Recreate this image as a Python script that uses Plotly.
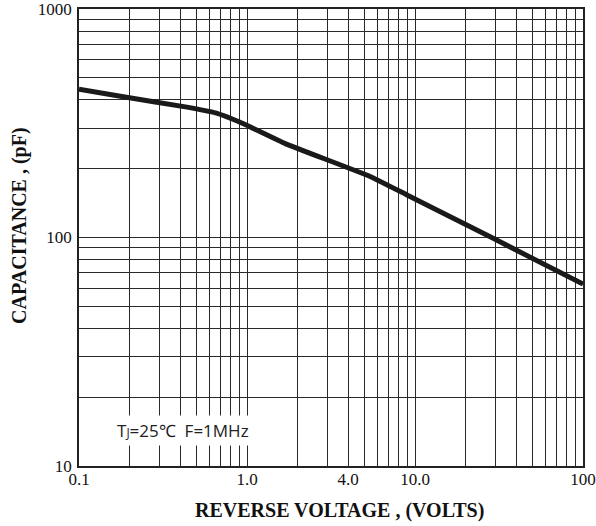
import plotly.graph_objects as go

# Data
voltage = [0.1, 0.18, 0.43, 0.65, 0.81, 0.96, 1.7, 5.4, 8.9, 29, 100]
capacitance = [446, 414, 373, 351, 331, 314, 257, 185, 154, 99.4, 62.5]

x_grid = [m * d for d in (0.1, 1, 10) for m in range(1, 10)] + [100]
x_labels = {0.1: "0.1", 1: "1.0", 4: "4.0", 10: "10.0", 100: "100"}
y_grid = [m * d for d in (10, 100) for m in range(1, 10)] + [1000]
y_labels = {10: "10", 100: "100", 1000: "1000"}

x_text = [x_labels.get(round(v, 6), "") for v in x_grid]
y_text = [y_labels.get(round(v, 6), "") for v in y_grid]

fig = go.Figure()
fig.add_trace(go.Scatter(
    x=voltage, y=capacitance, mode="lines",
    line=dict(color="#1a1a1a", width=5, shape="spline", smoothing=0.3),
    showlegend=False, hoverinfo="skip"))

serif = "Liberation Serif, Times New Roman, serif"
axis_common = dict(
    type="log", showgrid=True, gridcolor="#2a2a2a", gridwidth=1,
    showline=True, linecolor="#222", linewidth=1.5, mirror=True,
    ticks="", zeroline=False, automargin=False, ticklabeloverflow="allow",
    tickfont=dict(family=serif, size=17, color="#111"),
)
fig.update_xaxes(range=[-1, 2], tickmode="array", tickvals=x_grid, ticktext=x_text,
                 ticklabelstandoff=-3, **axis_common)
fig.update_yaxes(range=[1, 3], tickmode="array", tickvals=y_grid, ticktext=y_text,
                 ticklabelstandoff=2, **axis_common)

fig.add_annotation(
    x=0.2063, y=0.0766, xref="paper", yref="paper", showarrow=False,
    xanchor="center", yanchor="middle",
    text="T<span style='font-size:12px'>J</span>=25℃  F=1MHz",
    font=dict(family="Open Sans, sans-serif", size=17, color="#222"),
    bgcolor="white", borderpad=3)
fig.add_annotation(
    x=0.516, y=-0.0979, xref="paper", yref="paper", showarrow=False,
    xanchor="center", yanchor="middle",
    text="<b>REVERSE VOLTAGE , (VOLTS)</b>",
    font=dict(family=serif, size=20, color="#111"))
fig.add_annotation(
    x=-0.117, y=0.5255, xref="paper", yref="paper", showarrow=False,
    xanchor="center", yanchor="middle",
    text="<b>CAPACITANCE , (pF)</b>", textangle=-90,
    font=dict(family=serif, size=20, color="#111"))

fig.update_layout(
    width=596, height=526,
    margin=dict(l=79, r=13, t=9, b=60),
    paper_bgcolor="white", plot_bgcolor="white",
)
# remove the browser's default 8px body margin so the figure fills the window
fig.write_html("out.html", config={"displayModeBar": False},
               post_script="document.body.style.margin='0';document.body.style.overflow='hidden';")
